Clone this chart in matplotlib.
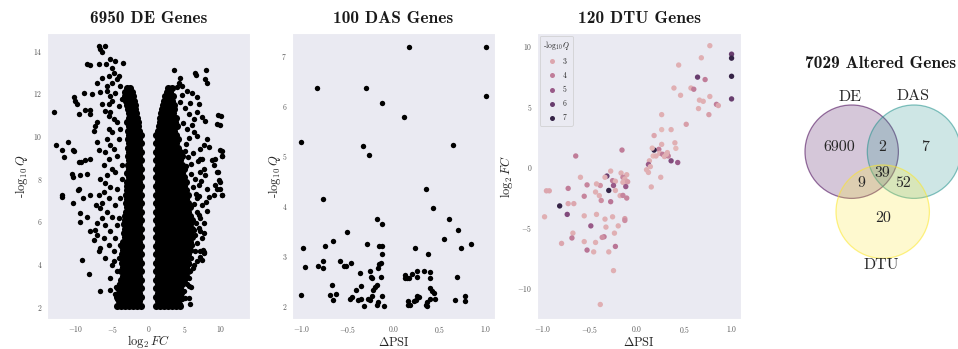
import numpy as np
import matplotlib
matplotlib.use("Agg")
import matplotlib.pyplot as plt
import seaborn as sns
from matplotlib.patches import Circle
from matplotlib.lines import Line2D
from matplotlib.colors import Normalize

# ------------------------------------------------------------------ data
titles = ["6950 DE Genes", "100 DAS Genes", "120 DTU Genes", "7029 Altered Genes"]

# Panel 1 (DE volcano): dense cores read as rows (y, [x values])
de_core_left = [
    (2.05, [-1.0, -1.55, -2.1, -2.65, -3.2, -3.75, -4.3]),
    (2.25, [-1.27, -1.82, -2.37, -2.92, -3.47, -4.02]),
    (2.45, [-1.0, -1.55, -2.1, -2.65, -3.2, -3.75, -4.3]),
    (2.65, [-1.27, -1.82, -2.37, -2.92, -3.47, -4.02]),
    (2.85, [-1.0, -1.55, -2.1, -2.65, -3.2, -3.75, -4.2]),
    (3.05, [-1.27, -1.82, -2.37, -2.92, -3.47]),
    (3.25, [-1.0, -1.55, -2.1, -2.65, -3.2, -3.75]),
    (3.45, [-1.27, -1.82, -2.37, -2.92, -3.47]),
    (3.65, [-1.0, -1.55, -2.1, -2.65, -3.2, -3.75]),
    (3.85, [-1.27, -1.82, -2.37, -2.92, -3.47]),
    (4.05, [-1.0, -1.55, -2.1, -2.65, -3.2, -3.7]),
    (4.25, [-1.27, -1.82, -2.37, -2.92, -3.47]),
    (4.45, [-1.0, -1.55, -2.1, -2.65, -3.2, -3.65]),
    (4.65, [-1.27, -1.82, -2.37, -2.92, -3.47]),
    (4.85, [-1.0, -1.55, -2.1, -2.65, -3.2, -3.6]),
    (5.05, [-1.27, -1.82, -2.37, -2.92, -3.45]),
    (5.25, [-1.0, -1.55, -2.1, -2.65, -3.2]),
    (5.45, [-1.27, -1.82, -2.37, -2.92, -3.4]),
    (5.65, [-1.0, -1.55, -2.1, -2.65, -3.2]),
    (5.85, [-1.27, -1.82, -2.37, -2.92, -3.35]),
    (6.05, [-1.0, -1.55, -2.1, -2.65, -3.2]),
    (6.25, [-1.27, -1.82, -2.37, -2.92, -3.3]),
    (6.45, [-1.0, -1.55, -2.1, -2.65, -3.15]),
    (6.65, [-1.27, -1.82, -2.37, -2.92]),
    (6.85, [-1.0, -1.55, -2.1, -2.65, -3.1]),
    (7.05, [-1.27, -1.82, -2.37, -2.92]),
    (7.25, [-1.0, -1.55, -2.1, -2.65, -3.05]),
    (7.45, [-1.27, -1.82, -2.37, -2.92]),
    (7.65, [-1.0, -1.55, -2.1, -2.65, -3.0]),
    (7.85, [-1.27, -1.82, -2.37, -2.92]),
    (8.05, [-1.0, -1.55, -2.1, -2.65]),
    (8.25, [-1.27, -1.82, -2.37, -2.9]),
    (8.45, [-1.0, -1.55, -2.1, -2.65]),
    (8.65, [-1.27, -1.82, -2.37, -2.88]),
    (8.85, [-1.0, -1.55, -2.1, -2.65]),
    (9.05, [-1.27, -1.82, -2.37, -2.85]),
    (9.25, [-1.0, -1.55, -2.1, -2.65]),
    (9.45, [-1.27, -1.82, -2.37, -2.82]),
    (9.65, [-1.05, -1.55, -2.1, -2.65]),
    (9.85, [-1.27, -1.82, -2.37, -2.8]),
    (10.05, [-1.1, -1.6, -2.1, -2.65]),
    (10.25, [-1.3, -1.82, -2.37, -2.8]),
    (10.45, [-1.4, -1.9, -2.4, -2.75]),
    (10.65, [-1.5, -2.0, -2.5, -2.9]),
    (10.85, [-1.6, -2.1, -2.65]),
    (11.05, [-1.7, -2.2, -2.75]),
    (11.25, [-1.8, -2.3, -2.85]),
    (11.45, [-1.9, -2.4, -2.95]),
    (11.65, [-2.0, -2.5, -3.05]),
    (11.85, [-2.2, -2.7, -3.2]),
    (12.05, [-2.3, -2.85, -3.3]),
    (12.25, [-2.5, -3.0]),
]
de_core_right = [
    (2.05, [1.0, 1.55, 2.1, 2.65, 3.2, 3.75, 4.3]),
    (2.25, [1.27, 1.82, 2.37, 2.92, 3.47, 4.02]),
    (2.45, [1.0, 1.55, 2.1, 2.65, 3.2, 3.75, 4.3]),
    (2.65, [1.27, 1.82, 2.37, 2.92, 3.47, 4.02, 4.5]),
    (2.85, [1.0, 1.55, 2.1, 2.65, 3.2, 3.75, 4.3]),
    (3.05, [1.27, 1.82, 2.37, 2.92, 3.47, 4.02, 4.57]),
    (3.25, [1.0, 1.55, 2.1, 2.65, 3.2, 3.75, 4.3, 4.85]),
    (3.45, [1.27, 1.82, 2.37, 2.92, 3.47, 4.02, 4.57, 5.12]),
    (3.65, [1.0, 1.55, 2.1, 2.65, 3.2, 3.75, 4.3, 4.85, 5.4]),
    (3.85, [1.27, 1.82, 2.37, 2.92, 3.47, 4.02, 4.57, 5.12]),
    (4.05, [1.0, 1.55, 2.1, 2.65, 3.2, 3.75, 4.3, 4.85, 5.4]),
    (4.25, [1.27, 1.82, 2.37, 2.92, 3.47, 4.02, 4.57, 5.12]),
    (4.45, [1.0, 1.55, 2.1, 2.65, 3.2, 3.75, 4.3, 4.85, 5.4]),
    (4.65, [1.27, 1.82, 2.37, 2.92, 3.47, 4.02, 4.57, 5.12, 5.67]),
    (4.85, [1.0, 1.55, 2.1, 2.65, 3.2, 3.75, 4.3, 4.85, 5.4]),
    (5.05, [1.27, 1.82, 2.37, 2.92, 3.47, 4.02, 4.57, 5.12, 5.67]),
    (5.25, [1.0, 1.55, 2.1, 2.65, 3.2, 3.75, 4.3, 4.85, 5.4, 5.95]),
    (5.45, [1.27, 1.82, 2.37, 2.92, 3.47, 4.02, 4.57, 5.12, 5.67]),
    (5.65, [1.0, 1.55, 2.1, 2.65, 3.2, 3.75, 4.3, 4.85, 5.4, 5.95]),
    (5.85, [1.27, 1.82, 2.37, 2.92, 3.47, 4.02, 4.57, 5.12, 5.67]),
    (6.05, [1.0, 1.55, 2.1, 2.65, 3.2, 3.75, 4.3, 4.85, 5.4, 5.95]),
    (6.25, [1.27, 1.82, 2.37, 2.92, 3.47, 4.02, 4.57, 5.12, 5.67]),
    (6.45, [1.0, 1.55, 2.1, 2.65, 3.2, 3.75, 4.3, 4.85, 5.4]),
    (6.65, [1.27, 1.82, 2.37, 2.92, 3.47, 4.02, 4.57, 5.12, 5.67]),
    (6.85, [1.0, 1.55, 2.1, 2.65, 3.2, 3.75, 4.3, 4.85, 5.4]),
    (7.05, [1.27, 1.82, 2.37, 2.92, 3.47, 4.02, 4.57, 5.12]),
    (7.25, [1.0, 1.55, 2.1, 2.65, 3.2, 3.75, 4.3, 4.85, 5.4]),
    (7.45, [1.27, 1.82, 2.37, 2.92, 3.47, 4.02, 4.57, 5.12]),
    (7.65, [1.0, 1.55, 2.1, 2.65, 3.2, 3.75, 4.3, 4.85]),
    (7.85, [1.27, 1.82, 2.37, 2.92, 3.47, 4.02, 4.57, 5.12]),
    (8.05, [1.0, 1.55, 2.1, 2.65, 3.2, 3.75, 4.3, 4.85]),
    (8.25, [1.27, 1.82, 2.37, 2.92, 3.47, 4.02, 4.57]),
    (8.45, [1.0, 1.55, 2.1, 2.65, 3.2, 3.75, 4.3, 4.85]),
    (8.65, [1.27, 1.82, 2.37, 2.92, 3.47, 4.02, 4.57]),
    (8.85, [1.0, 1.55, 2.1, 2.65, 3.2, 3.75, 4.3]),
    (9.05, [1.27, 1.82, 2.37, 2.92, 3.47, 4.02, 4.57]),
    (9.25, [1.0, 1.55, 2.1, 2.65, 3.2, 3.75, 4.3]),
    (9.45, [1.27, 1.82, 2.37, 2.92, 3.47, 4.02]),
    (9.65, [1.0, 1.55, 2.1, 2.65, 3.2, 3.75]),
    (9.85, [1.27, 1.82, 2.37, 2.92, 3.47, 4.02]),
    (10.05, [1.05, 1.55, 2.1, 2.65, 3.2, 3.75]),
    (10.25, [1.3, 1.82, 2.37, 2.92, 3.47]),
    (10.45, [1.4, 1.9, 2.4, 2.92, 3.47, 3.9]),
    (10.65, [1.55, 2.05, 2.6, 3.1, 3.6]),
    (10.85, [1.65, 2.15, 2.7, 3.2, 3.75]),
    (11.05, [1.75, 2.25, 2.8, 3.35]),
    (11.25, [1.85, 2.35, 2.9, 3.45]),
    (11.45, [1.95, 2.45, 3.0, 3.55]),
    (11.65, [2.1, 2.65, 3.2]),
    (11.85, [2.3, 2.85, 3.4]),
    (12.05, [2.5, 3.0]),
    (12.25, [2.7, 3.2]),
]
# Panel 1 scattered genes (log2FC, -log10Q)
de_left_sparse = [
    (-6.87, 14.23), (-6.64, 14.08), (-5.95, 14.23), (-6.41, 13.92), (-8.48, 13.39),
    (-8.11, 13.30), (-6.87, 13.35), (-5.26, 13.58), (-4.57, 13.5), (-3.52, 13.42),
    (-5.82, 13.39), (-5.03, 13.19), (-6.41, 12.73), (-5.49, 12.8), (-7.1, 12.5),
    (-8.94, 12.03), (-7.79, 11.98), (-6.64, 12.06), (-10.32, 11.8), (-10.1, 11.64),
    (-9.86, 11.49), (-13.08, 11.1), (-9.63, 11.02), (-8.71, 11.22), (-8.02, 11.22),
    (-8.02, 11.02), (-7.1, 10.67), (-7.33, 10.48), (-7.56, 10.25), (-6.41, 11.49),
    (-5.49, 10.94), (-12.71, 9.55), (-11.93, 9.32), (-11.15, 9.7), (-11.61, 9.0),
    (-10.41, 9.32), (-10.23, 9.27), (-7.1, 9.73), (-6.87, 9.32), (-9.63, 8.77),
    (-9.31, 8.77), (-8.71, 8.85), (-8.02, 8.93), (-10.55, 8.23), (-10.41, 8.08),
    (-9.49, 8.15), (-8.48, 8.23), (-9.63, 7.53), (-9.77, 7.46), (-11.93, 7.25),
    (-11.93, 7.12), (-10.41, 6.84), (-9.03, 7.07), (-8.11, 7.22), (-9.49, 6.37),
    (-9.49, 5.95), (-8.48, 6.22), (-7.2, 6.76), (-6.64, 6.6), (-8.11, 5.55),
    (-7.33, 5.6), (-7.1, 5.36), (-7.56, 5.13), (-6.64, 4.74), (-6.87, 4.59),
    (-9.17, 4.2), (-8.25, 3.53), (-6.64, 2.73), (-5.26, 2.8), (-4.44, 2.91),
    (-4.34, 2.34), (-3.89, 2.11),
    (-5.72, 12.11), (-5.26, 11.87), (-5.03, 11.64), (-5.49, 11.49), (-5.95, 11.18),
    (-5.26, 11.10), (-4.80, 10.79), (-5.49, 10.32), (-5.03, 10.17), (-5.72, 9.86),
    (-5.26, 9.55), (-5.95, 9.24), (-4.80, 9.39), (-5.49, 8.93), (-6.18, 8.62),
    (-5.03, 8.46), (-5.72, 8.15), (-6.64, 8.00), (-5.95, 7.77), (-5.26, 7.61),
    (-6.18, 7.38), (-6.87, 7.22), (-5.49, 7.07), (-6.41, 6.84), (-5.72, 6.45),
    (-5.03, 6.22), (-6.41, 6.14), (-5.95, 5.83), (-7.10, 5.91), (-5.26, 5.52),
    (-6.18, 5.21), (-5.49, 4.90), (-4.80, 4.59), (-5.95, 4.28), (-5.03, 3.97),
    (-4.34, 3.66), (-5.26, 3.35), (-4.57, 2.57), (-4.11, 3.04), (-4.80, 4.12),
    (-4.57, 5.21), (-4.34, 5.83), (-4.57, 6.76), (-4.34, 7.53), (-4.57, 8.31),
    (-4.34, 9.08), (-4.11, 9.86), (-4.34, 10.63), (-4.11, 11.41), (-4.57, 12.03),
    (-5.03, 12.49), (-4.34, 12.65), (-5.72, 12.34), (-3.89, 12.34), (-4.80, 12.96),
    (-4.11, 12.80), (-3.66, 11.72), (-3.20, 12.03), (-3.89, 10.32), (-3.66, 8.62),
    (-3.89, 7.07), (-3.66, 8.0), (-4.11, 6.14), (-3.89, 4.90), (-4.11, 4.28),
    (-3.66, 3.35), (-3.89, 2.42), (-3.43, 2.11),
]
de_right_sparse = [
    (4.16, 12.49), (4.62, 12.34), (5.31, 12.11), (6.0, 12.03), (6.69, 11.8),
    (5.77, 11.56), (6.92, 11.49), (7.38, 10.87), (7.84, 10.71), (9.45, 10.56),
    (9.91, 10.51), (6.69, 11.1), (6.23, 10.79), (5.54, 11.02), (8.07, 9.86),
    (7.61, 9.55), (8.30, 9.47), (7.15, 9.39), (6.69, 10.01), (6.23, 10.17),
    (5.31, 10.32), (7.38, 8.93), (8.76, 8.85), (9.22, 8.93), (9.91, 9.32),
    (10.14, 9.08), (8.99, 8.62), (9.45, 8.31), (9.68, 7.92), (9.22, 7.69),
    (9.91, 7.53), (10.14, 7.22), (8.99, 7.22), (8.30, 7.15), (8.07, 7.53),
    (7.84, 8.15), (7.61, 8.46), (7.15, 8.31), (6.92, 7.69), (6.69, 7.07),
    (7.38, 6.76), (6.69, 6.45), (7.15, 6.14), (7.61, 5.91), (6.92, 5.67),
    (6.46, 5.36), (7.38, 5.21), (6.69, 4.97), (7.15, 4.59), (7.61, 4.51),
    (7.38, 4.2), (6.69, 4.12), (6.23, 3.97), (5.77, 3.66), (5.54, 3.35),
    (5.31, 3.04), (4.85, 2.73), (5.08, 2.42), (5.54, 2.42), (4.39, 2.11),
    (3.93, 2.03), (4.62, 2.34), (5.77, 2.11),
    (3.47, 13.1), (4.39, 12.7), (6.46, 12.96), (6.6, 12.84), (7.98, 13.1),
    (7.84, 12.65), (8.07, 12.5),
    (9.63, 10.96), (10.0, 10.92), (10.1, 9.28), (10.2, 9.08), (9.63, 8.29),
    (9.86, 7.86), (10.2, 7.25), (9.4, 7.5), (7.9, 6.9), (8.0, 6.46),
    (7.1, 5.54), (7.66, 5.47), (7.57, 4.67), (7.7, 4.55), (7.1, 4.32),
    (5.6, 2.95), (4.0, 2.56), (4.6, 2.41), (7.1, 8.9),
    (6.2, 9.2), (5.9, 8.7), (6.4, 8.0), (6.1, 7.6), (6.5, 7.3),
    (6.3, 6.8), (6.6, 5.9), (6.3, 5.6), (6.0, 4.9), (6.4, 4.6),
    (5.9, 4.3), (6.1, 3.8), (5.6, 4.0), (5.9, 2.9), (5.2, 9.6),
    (5.6, 9.9), (4.8, 10.6), (5.0, 11.3), (4.3, 11.6), (4.6, 11.9),
    (3.9, 12.3), (5.8, 8.2), (5.5, 9.0), (6.8, 8.8), (7.0, 7.2),
    (6.9, 6.3), (7.3, 7.9), (6.0, 10.5), (5.2, 8.6), (5.0, 9.3),
]

# Panel 2 (DAS)
das_dpsi = [1.0, 0.17, -0.83, -0.30, -0.12, 0.11, 1.0, -1.0, -0.33, -0.27,
            0.64, 0.35, -0.76, 0.43, -0.18, -0.13, 0.60, 0.70, -0.50, -0.66,
            0.55, -0.74, -0.29, -0.16, -0.13, -0.98, 0.23, 0.73, 0.84, 0.37,
            -0.12, -0.76, -0.76, -0.82, -0.96, -0.58, -0.54, -0.51, -0.46, -0.16,
            -0.14, -0.17, -0.36, -0.25, -0.24, -0.23, -0.14, -0.18, -0.20, -0.35,
            -0.41, -0.22, -0.67, -0.69, -0.66, -0.62, -1.0, -0.47, -0.45, -0.39,
            -0.35, -0.32, -0.28, -0.25, -0.23, -0.18, -0.17, -0.12, -0.10, 0.12,
            0.13, 0.15, 0.17, 0.20, 0.25, 0.25, 0.33, 0.40, 0.40, 0.16,
            0.16, 0.18, 0.22, 0.24, 0.25, 0.28, 0.35, 0.36, 0.36, 0.40,
            0.42, 0.44, 0.40, 0.45, 0.69, 0.67, 0.77, 0.78]
das_q = [7.18, 7.18, 6.36, 6.36, 6.05, 5.78, 6.20, 5.28, 5.19, 5.01,
         5.22, 4.34, 4.14, 3.95, 3.74, 3.63, 3.74, 3.51, 3.48, 3.30,
         3.34, 3.20, 3.23, 3.20, 3.20, 3.15, 3.15, 3.15, 3.23, 3.04,
         3.04, 2.90, 2.76, 2.81, 2.78, 2.90, 2.81, 2.81, 2.86, 2.84,
         2.87, 2.76, 2.67, 2.71, 2.59, 2.56, 2.59, 2.43, 2.38, 2.41,
         2.32, 2.32, 2.42, 2.22, 2.13, 2.24, 2.22, 2.14, 2.18, 2.12,
         2.14, 2.01, 2.14, 2.13, 2.20, 2.03, 2.09, 2.20, 2.01, 2.62,
         2.57, 2.56, 2.56, 2.64, 2.59, 2.70, 2.70, 2.68, 2.56, 2.10,
         2.03, 2.02, 2.10, 2.12, 2.20, 2.18, 2.03, 2.00, 2.09, 2.36,
         2.30, 2.26, 2.14, 2.14, 2.59, 2.12, 2.21, 2.10]

# Panel 3 (DTU)
dtu_dpsi = [0.77, 1.0, 1.0, 1.0, 1.0, 0.64, 0.72, 0.44, 0.68, 0.39,
            0.46, 0.57, 0.60, 0.66, 0.70, 0.77, 0.65, 0.76, 0.84, 0.86,
            0.52, 0.26, 0.26, 0.36, 0.18, 0.26, 0.40, 0.41, 0.23, 0.18,
            0.16, 0.17, 0.20, 0.24, 0.27, 0.29, 0.32, 0.33, 0.36, 0.43,
            0.13, 0.12, 0.14, 0.10, 0.12, 0.15, 0.25, 0.31,
            -0.65, -0.16,
            -0.28, -0.32, -0.34, -0.17, -0.11, -0.15, -0.13, -0.12, -0.15, -0.10,
            -0.26, -0.23, -0.25, -0.12, -0.30, -0.23, -0.39, -0.43, -0.60, -0.53,
            -0.44, -0.40, -0.18, -0.15, -0.11, -0.28, -0.38, -0.56, -0.73, -0.73,
            -0.67, -0.82, -0.96, -0.93, -0.98, -0.74, -0.56, -0.43, -0.34, -0.26,
            -0.13, -0.13, -0.33, -0.49, -0.20, -0.68, -0.69, -0.35, -0.37, -0.24,
            -0.56, -0.44, -0.80, -0.23, -0.53, -0.46, -0.30, -0.25, -0.39]
dtu_fc = [10.0, 9.3, 8.97, 7.47, 5.6, 7.4, 7.2, 8.4, 9.0, 6.5,
          5.9, 6.5, 6.4, 5.5, 5.4, 5.8, 4.8, 4.3, 5.15, 5.05,
          3.5, 4.3, 3.06, 3.06, 2.57, 1.84, 1.97, 1.51, 1.43, 1.37,
          1.53, 0.88, 0.88, 1.10, 1.02, 0.83, 1.16, 0.88, 0.48, 0.34,
          0.48, 0.18, 0.0, -0.26, -0.48, -1.68, -0.88, 1.02,
          0.88, 1.37,
          -0.37, -0.78, -0.88, -0.53, -0.67, -0.88, -1.02, -1.2, -1.3, -1.25,
          -1.16, -1.21, -1.56, -1.65, -1.97, -1.97, -1.56, -1.43, -0.88, -1.51,
          -2.1, -2.4, -2.4, -2.38, -2.6, -2.9, -2.8, -2.45, -1.8, -3.06,
          -3.06, -3.25, -2.0, -2.0, -4.15, -3.95, -4.07, -3.95, -4.34, -4.15,
          -4.3, -4.45, -5.0, -4.9, -4.9, -5.5, -5.9, -5.8, -5.85, -5.5,
          -6.2, -6.27, -6.35, -6.6, -6.9, -7.05, -7.05, -8.6, -11.4]
dtu_q = [2.8, 6.0, 7.0, 7.0, 6.0, 6.0, 4.0, 2.8, 2.8, 2.8,
         2.8, 2.8, 4.0, 2.8, 2.8, 2.8, 2.8, 3.2, 4.0, 3.0,
         3.2, 2.8, 2.6, 2.8, 3.0, 2.8, 2.8, 2.6, 4.0, 7.0,
         2.6, 2.6, 2.8, 2.8, 4.0, 2.8, 2.8, 3.8, 5.5, 5.0,
         2.8, 5.0, 2.8, 2.8, 2.8, 2.8, 2.8, 2.8,
         4.0, 4.0,
         2.8, 6.0, 2.8, 2.8, 2.8, 3.8, 2.8, 3.0, 2.8, 3.2,
         4.0, 2.8, 5.0, 5.0, 7.0, 2.8, 3.5, 2.8, 2.8, 3.8,
         2.8, 2.8, 2.8, 3.8, 3.8, 4.2, 3.6, 3.8, 4.0, 3.0,
         3.0, 7.0, 3.0, 3.0, 2.8, 5.5, 2.8, 2.8, 2.8, 2.8,
         3.2, 3.6, 2.8, 5.0, 2.8, 2.8, 4.0, 4.0, 3.5, 2.8,
         2.8, 2.8, 3.0, 4.2, 4.2, 2.8, 2.8, 2.8, 2.8]
legend_levels = [3, 4, 5, 6, 7]

# Panel 4 (Venn)
venn_sets = ["DE", "DAS", "DTU"]
venn_colors = ["#440154", "#21918c", "#fde725"]
venn_counts = {"100": 6900, "110": 2, "010": 7, "111": 39, "101": 9, "011": 52, "001": 20}

# ------------------------------------------------------------------ style
sns.set_style("dark")
plt.rcParams.update({
    "font.family": "serif",
    "font.serif": ["cmr10"],
    "mathtext.fontset": "cm",
    "axes.formatter.use_mathtext": True,
    "axes.unicode_minus": True,
})

W, H = 958, 349
fig = plt.figure(figsize=(W / 100, H / 100), dpi=100)


def px_axes(x0, x1, y0, y1):
    return fig.add_axes([x0 / W, 1 - y1 / H, (x1 - x0) / W, (y1 - y0) / H])


ax1 = px_axes(47, 250, 33, 319)
ax2 = px_axes(292, 495, 33, 319)
ax3 = px_axes(537, 741, 33, 319)

tick_kw = dict(labelsize=5.5, pad=3.5, colors="0.35", length=0)
lab_kw = dict(fontsize=9, color="0.15")
title_kw = dict(fontsize=12.5, fontfamily="cmb10", color="0.1", pad=7)

# Panel 1
core_x, core_y = [], []
for y, xs in de_core_left + de_core_right:
    core_x += xs
    core_y += [y] * len(xs)
sp_x = [p[0] for p in de_left_sparse + de_right_sparse]
sp_y = [p[1] for p in de_left_sparse + de_right_sparse]
ax1.scatter(core_x, core_y, s=26, c="black", linewidths=0)
ax1.scatter(sp_x, sp_y, s=15, c="black", linewidths=0)
ax1.set_xlim(-14, 14)
ax1.set_ylim(1.42, 14.82)
ax1.set_xticks([-10, -5, 0, 5, 10])
ax1.set_yticks([2, 4, 6, 8, 10, 12, 14])
ax1.set_xlabel(r"$\log_2 FC$", labelpad=-1.2, **lab_kw)
ax1.set_ylabel(r"-$\log_{10}Q$", labelpad=2, **lab_kw)
ax1.set_title(titles[0], **title_kw)
ax1.tick_params(**tick_kw)

# Panel 2
ax2.scatter(das_dpsi, das_q, s=15, c="black", linewidths=0)
ax2.set_xlim(-1.1, 1.1)
ax2.set_ylim(1.74, 7.46)
ax2.set_xticks([-1.0, -0.5, 0.0, 0.5, 1.0])
ax2.set_yticks([2, 3, 4, 5, 6, 7])
ax2.set_xlabel(r"$\Delta$PSI", labelpad=0.5, **lab_kw)
ax2.set_ylabel(r"-$\log_{10}Q$", labelpad=-1, **lab_kw)
ax2.set_title(titles[1], **title_kw)
ax2.tick_params(**tick_kw)

# Panel 3
cmap = sns.cubehelix_palette(as_cmap=True)
norm = Normalize(2.0, 7.2)
ax3.scatter(dtu_dpsi, dtu_fc, s=15, c=dtu_q, cmap=cmap, norm=norm, linewidths=0)
ax3.set_xlim(-1.06, 1.1)
ax3.set_ylim(-12.6, 11.05)
ax3.set_xticks([-1.0, -0.5, 0.0, 0.5, 1.0])
ax3.set_yticks([-10, -5, 0, 5, 10])
ax3.set_xlabel(r"$\Delta$PSI", labelpad=0.5, **lab_kw)
ax3.set_ylabel(r"$\log_2 FC$", labelpad=1, **lab_kw)
ax3.set_title(titles[2], **title_kw)
ax3.tick_params(**tick_kw)
handles = [Line2D([], [], ls="", marker="o", markersize=3.6, markeredgewidth=0,
                  color=cmap(norm(v)), label=str(v)) for v in legend_levels]
leg = ax3.legend(handles=handles, title=r"-$\log_{10}Q$", loc="upper left",
                 fontsize=5.5, title_fontsize=5.5, borderaxespad=0.35,
                 handletextpad=0.6, labelspacing=0.75, borderpad=0.4,
                 handlelength=1.6, frameon=True)
leg.get_frame().set_facecolor("#EAEAF2")
leg.get_frame().set_edgecolor("0.8")
leg.get_frame().set_linewidth(0.6)

# Panel 4: Venn diagram in pixel-like coordinates
ax4 = px_axes(760, 958, 40, 300)
ax4.set_xlim(760, 958)
ax4.set_ylim(300, 40)
ax4.axis("off")
centers = [(851.7, 151.7), (914.0, 151.7), (882.7, 211.7)]
r = 46.7
for (cx, cy), col in zip(centers, venn_colors):
    ax4.add_patch(Circle((cx, cy), r, facecolor=col, alpha=0.22, edgecolor="none"))
    ax4.add_patch(Circle((cx, cy), r, facecolor="none", edgecolor=col, alpha=0.55, lw=0.9))
venn_text_pos = {"100": (839.3, 147.3), "110": (882.3, 147.3), "010": (925.0, 147.3),
                 "111": (882.7, 173.5), "101": (861.7, 182.7), "011": (903.3, 182.7),
                 "001": (882.7, 218.3)}
for key, (tx, ty) in venn_text_pos.items():
    ax4.text(tx, ty, str(venn_counts[key]), ha="center", va="center", fontsize=11.5,
             color="0.15")
for name, (tx, ty) in zip(venn_sets, [(850.0, 96.7), (912.7, 95.7), (881.0, 265.0)]):
    ax4.text(tx, ty, name, ha="center", va="center", fontsize=11.5, color="0.15")
ax4.text(881, 63.3, titles[3], ha="center", va="center", fontsize=12.5,
         fontfamily="cmb10", color="0.1")

fig.savefig("out.png", dpi=100)
